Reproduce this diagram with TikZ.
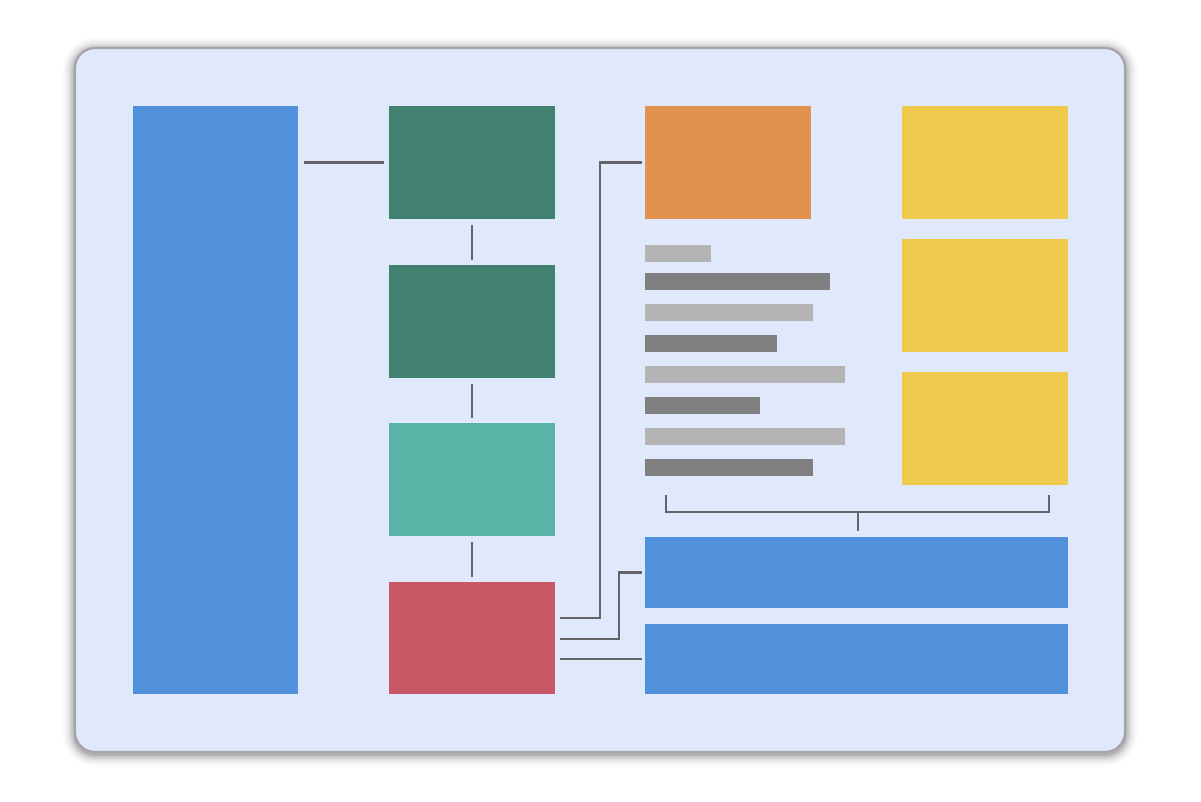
\documentclass[tikz,border=0pt]{standalone}
\usetikzlibrary{calc}
\definecolor{panelbg}{RGB}{224,233,251}
\definecolor{panelline}{RGB}{165,165,170}
\definecolor{cblue}{RGB}{81,145,220}
\definecolor{cgreen}{RGB}{66,129,112}
\definecolor{cteal}{RGB}{91,180,168}
\definecolor{cred}{RGB}{202,87,102}
\definecolor{corange}{RGB}{224,146,78}
\definecolor{cyellow}{RGB}{240,202,77}
\definecolor{barlight}{RGB}{180,180,180}
\definecolor{bardark}{RGB}{128,128,128}
\definecolor{wire}{RGB}{100,100,104}
\tikzset{
  blk/.style={draw=none, inner sep=0pt, outer sep=0pt, rectangle},
  wirestyle/.style={draw=wire, line width=2.2pt},
}
\newcommand{\boxat}[6]{% name, color, x1,y1,x2,y2
  \path[fill=#2] (#3,#4) rectangle (#5,#6);
  \node[blk, minimum width=#5pt-#3pt, minimum height=#6pt-#4pt] (#1) at ({(#3+#5)/2},{(#4+#6)/2}) {};
}
\begin{document}
\begin{tikzpicture}[x=1pt,y=-1pt]
\useasboundingbox (0,0) rectangle (1201,801);
% shadow
\foreach \i/\o in {12/0.02,10/0.03,8/0.04,6/0.06,4/0.08,2/0.12}{
  \fill[black, opacity=\o, rounded corners={20+\i}] ({75-\i},{48-\i+2}) rectangle ({1125+\i},{752+\i+2});
}
\draw[panelline, line width=2.2pt, fill=panelbg, rounded corners=20] (75,48) rectangle (1125,752);
% blocks
\boxat{bigblue}{cblue}{133}{106}{298}{694}
\boxat{g1}{cgreen}{389}{106}{555}{219}
\boxat{g2}{cgreen}{389}{265}{555}{378}
\boxat{teal}{cteal}{389}{423}{555}{536}
\boxat{red}{cred}{389}{582}{555}{694}
\boxat{orange}{corange}{645}{106}{811}{219}
\boxat{y1}{cyellow}{902}{106}{1068}{219}
\boxat{y2}{cyellow}{902}{239}{1068}{352}
\boxat{y3}{cyellow}{902}{372}{1068}{485}
\boxat{wb1}{cblue}{645}{537}{1068}{608}
\boxat{wb2}{cblue}{645}{624}{1068}{694}
% bars
\boxat{bar1}{barlight}{645}{245}{711}{262}
\boxat{bar2}{bardark}{645}{273}{830}{290}
\boxat{bar3}{barlight}{645}{304}{813}{321}
\boxat{bar4}{bardark}{645}{335}{777}{352}
\boxat{bar5}{barlight}{645}{366}{845}{383}
\boxat{bar6}{bardark}{645}{397}{760}{414}
\boxat{bar7}{barlight}{645}{428}{845}{445}
\boxat{bar8}{bardark}{645}{459}{813}{476}
% connectors
\coordinate (a1) at ($(bigblue.east |- g1.west)+(6,0)$);
\coordinate (a2) at ($(g1.west)+(-5,0)$);
\draw[wirestyle] (a1) -- (a2);
\draw[wirestyle] ($(g1.south)+(0,6)$) -- ($(g2.north)+(0,-5)$);
\draw[wirestyle] ($(g2.south)+(0,6)$) -- ($(teal.north)+(0,-5)$);
\draw[wirestyle] ($(teal.south)+(0,6)$) -- ($(red.north)+(0,-5)$);
\coordinate (r1) at ($(red.east)+(5,-20)$);
\coordinate (r2) at ($(red.east)+(5,1)$);
\coordinate (r3) at ($(red.east)+(5,21)$);
\coordinate (o1) at ($(orange.west)+(-3,0)$);
\coordinate (b1) at ($(wb1.west)+(-3,0)$);
\coordinate (b2) at ($(wb2.west |- r3)+(-3,0)$);
\draw[wirestyle] (r1) -| ($(600,0 |- o1)$) -- (o1);
\draw[wirestyle] (r2) -| ($(619,0 |- b1)$) -- (b1);
\draw[wirestyle] (r3) -- (b2);
% bracket
\coordinate (bl) at (666,495);
\coordinate (br) at (1049,495);
\coordinate (bm) at (858,512);
\draw[wirestyle] (bl) -- (666,512) -- (1049,512) -- (br);
\draw[wirestyle] (bm) -- ($(wb1.north -| bm)+(0,-6)$);
\end{tikzpicture}
\end{document}
